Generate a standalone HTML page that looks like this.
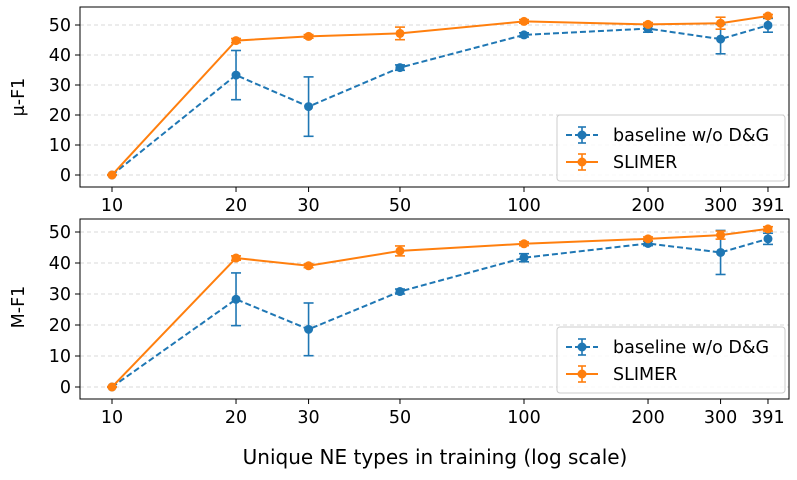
<!DOCTYPE html>
<html><head><meta charset="utf-8"><style>
body{margin:0;background:#fff}
svg text{font-family:"DejaVu Sans","Liberation Sans",sans-serif;fill:#000}
</style></head><body>
<svg id="c" width="797" height="475" xmlns="http://www.w3.org/2000/svg"></svg>
<script>
const categories=[10,20,30,50,100,200,300,391];
const yTicks=[0,10,20,30,40,50];
const microBase=[0,33.3,22.8,35.8,46.7,48.8,45.3,49.9];
const microBaseErr=[0,8.2,9.9,0.9,0.7,1.2,4.9,2.3];
const microSlimer=[0,44.8,46.2,47.2,51.2,50.2,50.6,53.0];
const microSlimerErr=[0,0.7,0.6,2.1,0.6,0.6,2.0,0.5];
const macroBase=[0,28.3,18.6,30.8,41.7,46.3,43.4,47.8];
const macroBaseErr=[0,8.5,8.5,0.8,1.3,0.7,7.1,1.8];
const macroSlimer=[0,41.6,39.1,43.9,46.2,47.8,49.0,51.0];
const macroSlimerErr=[0,0.7,0.6,1.6,0.6,0.6,1.3,0.7];
const NS="http://www.w3.org/2000/svg";
const svg=document.getElementById('c');
function mk(t,a,p){const e=document.createElementNS(NS,t);for(const k in a)e.setAttribute(k,a[k]);(p||svg).appendChild(e);return e;}
const X0=80,X1=789;
function xs(v){return 112+Math.log10(v/10)*412;}
function panel(name,top,bot,y0,ppu,base,baseE,sl,slE,ylabel,ly){
  const ys=v=>y0-v*ppu;
  const g=mk('g',{});
  
  
  yTicks.forEach(t=>{
    const gl=mk('line',{x1:X0,x2:X1,y1:ys(t),y2:ys(t),stroke:'#ccc','stroke-dasharray':'4,3','stroke-width':0.8},g);
    
    
    mk('line',{x1:X0-5,x2:X0,y1:ys(t),y2:ys(t),stroke:'#000'},g);
    const tx=mk('text',{x:X0-9,y:ys(t)+6,'text-anchor':'end','font-size':17.5},g);tx.textContent=t;
    
    
  });
  categories.forEach(c=>{
    mk('line',{x1:xs(c),x2:xs(c),y1:bot,y2:bot+5,stroke:'#000'},g);
    const tx=mk('text',{x:xs(c),y:bot+24,'text-anchor':'middle','font-size':17.5},g);tx.textContent=c;
    
    
  });
  function series(vals,errs,col,dash,sname){
    const sg=mk('g',{},g);
    
    
    mk('polyline',{points:categories.map((c,i)=>xs(c)+','+ys(vals[i])).join(' '),fill:'none',stroke:col,'stroke-width':2,'stroke-dasharray':dash},sg);
    categories.forEach((c,i)=>{
      const x=xs(c),a=ys(vals[i]-errs[i]),b=ys(vals[i]+errs[i]);
      mk('line',{x1:x,x2:x,y1:a,y2:b,stroke:col,'stroke-width':1.6},sg);
      mk('line',{x1:x-5,x2:x+5,y1:a,y2:a,stroke:col,'stroke-width':1.6},sg);
      mk('line',{x1:x-5,x2:x+5,y1:b,y2:b,stroke:col,'stroke-width':1.6},sg);
      const p=mk('circle',{cx:x,cy:ys(vals[i]),r:4.5,fill:col},sg);
      
      
    });
  }
  series(base,baseE,'#1f77b4','6,3','series-baseline');
  series(sl,slE,'#ff7f0e','','series-slimer');
  mk('rect',{x:X0,y:top,width:X1-X0,height:bot-top,fill:'none',stroke:'#000','stroke-width':1},g);
  const yl=mk('text',{x:24,y:ly,'text-anchor':'middle','font-size':17.5,transform:`rotate(-90 24 ${ly})`},g);yl.textContent=ylabel;
  
  
  const lt=bot-72;
  const lg=mk('g',{},g);
  
  
  mk('rect',{x:557,y:lt,width:228,height:66,rx:3,fill:'#fff','fill-opacity':0.85,stroke:'#ccc'},lg);
  [['baseline w/o D&G','#1f77b4','6,3'],['SLIMER','#ff7f0e','']].forEach((e,i)=>{
    const cy=lt+20+i*27;
    mk('line',{x1:566,x2:598,y1:cy,y2:cy,stroke:e[1],'stroke-width':2,'stroke-dasharray':e[2]},lg);
    mk('line',{x1:582,x2:582,y1:cy-8,y2:cy+8,stroke:e[1],'stroke-width':1.6},lg);
    mk('line',{x1:578,x2:586,y1:cy-8,y2:cy-8,stroke:e[1],'stroke-width':1.6},lg);
    mk('line',{x1:578,x2:586,y1:cy+8,y2:cy+8,stroke:e[1],'stroke-width':1.6},lg);
    mk('circle',{cx:582,cy:cy,r:4.5,fill:e[1]},lg);
    const t=mk('text',{x:613,y:cy+6,'font-size':17.5},lg);t.textContent=e[0];
    
    
  });
}
panel('micro-f1-panel',7,187,175,3.0,microBase,microBaseErr,microSlimer,microSlimerErr,'μ-F1',97);
panel('macro-f1-panel',219,399,387,3.1,macroBase,macroBaseErr,macroSlimer,macroSlimerErr,'M-F1',307);
const xt=mk('text',{x:435,y:464,'text-anchor':'middle','font-size':20});xt.textContent='Unique NE types in training (log scale)';


</script>
</body></html>
